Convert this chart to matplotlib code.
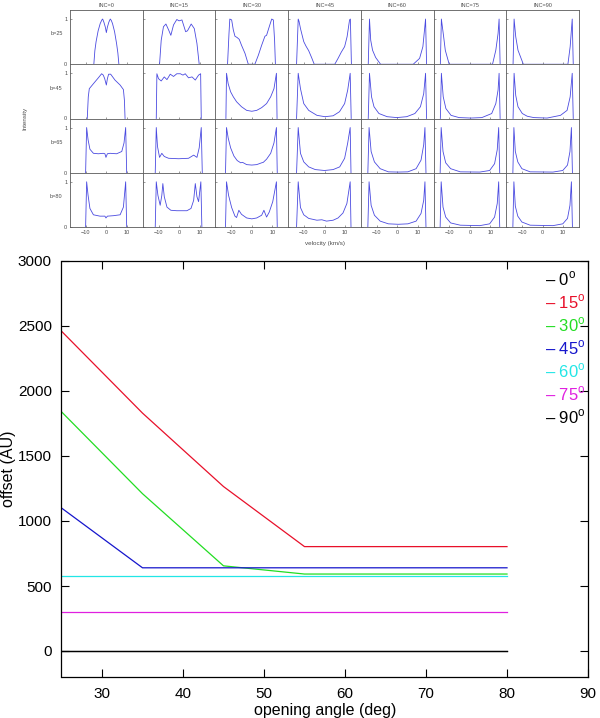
import matplotlib
matplotlib.use("Agg")
import matplotlib.pyplot as plt

plt.rcParams['font.family'] = ['Liberation Sans', 'DejaVu Sans']
plt.rcParams['mathtext.fontset'] = 'custom'
plt.rcParams['mathtext.rm'] = 'Liberation Sans'

# ---- top panel: line profiles, columns = inclination, rows = b ----
inc_labels = ['INC=0', 'INC=15', 'INC=30', 'INC=45', 'INC=60', 'INC=75', 'INC=90']
row_labels = ['b=25', 'b=45', 'b=65', 'b=80']

b25_v = [
    [-6.1, -5.6, -5, -4, -3, -2.2, -1.8, -1.2, -0.5, 0, 0.5, 1.2, 1.9, 2.4, 3, 4, 5, 5.6, 6.1],
    [-9.5, -8.7, -7.6, -6.4, -5.1, -4, -2.7, -1.1, 0, 1.4, 2.3, 3.2, 4.1, 5.9, 7.4, 8.7, 9.8],
    [-11.8, -11.1, -10.7, -9.8, -9, -8.2, -7.1, -6.1, -5, -3.3, -1.7, 1.5, 3.2, 4.8, 6.4, 7.2, 8.5, 9.7, 10.5, 11.1, 11.5],
    [-13.6, -12.8, -12.4, -11.7, -10.1, -9, -7.7, -6.3, -5, 5, 6.6, 8.2, 9.8, 11, 12.2, 12.6, 13.1],
    [-14.1, -13.5, -12.9, -12, -10.5, -8.1, 7.8, 10.9, 12.5, 13.8, 14.3],
    [-14.4, -13.9, -12.8, -12, -10.1, 11, 12.6, 13.7, 14.2, 14.7],
    [-14.4, -13.9, -13.1, -12, -9.4, 12.3, 13.4, 14.4, 14.9],
]
b25_I = [
    [0, 0.3, 0.5, 0.74, 0.9, 0.98, 1.0, 0.93, 0.82, 0.7, 0.82, 0.93, 1.0, 0.97, 0.9, 0.72, 0.45, 0.25, 0],
    [0, 0.53, 0.83, 0.89, 0.76, 0.64, 0.87, 0.99, 0.96, 0.98, 0.85, 0.72, 0.74, 0.89, 0.79, 0.46, 0],
    [0, 0.68, 1.0, 0.98, 0.76, 0.62, 0.59, 0.55, 0.42, 0.24, 0, 0, 0.2, 0.42, 0.62, 0.64, 0.83, 1.0, 0.98, 0.53, 0],
    [0, 1.0, 0.95, 0.79, 0.5, 0.4, 0.3, 0.15, 0, 0, 0.13, 0.27, 0.39, 0.61, 0.98, 1.0, 0],
    [0, 1.0, 0.53, 0.31, 0.15, 0, 0, 0.13, 0.39, 1.0, 0],
    [0, 1.0, 0.61, 0.31, 0, 0, 0.31, 0.68, 1.0, 0],
    [0, 1.0, 0.61, 0.31, 0, 0, 0.39, 1.0, 0],
]

b45_v = [
    [-9.3, -8.8, -8.3, -6.3, -3.9, -2.3, -1.5, -0.8, 0, 0.5, 1.1, 2.1, 4.2, 6.7, 8.3, 8.8, 9.1],
    [-11.1, -10.8, -10, -8.7, -7.2, -5.9, -4.3, -2.7, -1.1, 0.6, 1.9, 3, 4.6, 6.3, 7.9, 9.5, 10.5, 10.8],
    [-12.6, -12.3, -11.5, -10.3, -9, -7.4, -5, -2.5, 0, 2.4, 4.8, 7.2, 9.2, 10.8, 12, 12.3],
    [-13.6, -12.8, -11.7, -10.1, -7.7, -3.7, 0.2, 4.2, 7.3, 9.8, 11.3, 12.5, 13],
    [-14.1, -13.5, -12.5, -11.3, -8.9, -4.9, -0.2, 4.6, 8.6, 11.3, 12.9, 13.8, 14.3],
    [-14.4, -13.9, -13, -11.7, -9.2, -5.3, 0.4, 5.8, 10.6, 12.6, 13.7, 14.2, 14.7],
    [-14.4, -13.9, -13.1, -12, -9.9, -7.5, -4.3, 2.2, 8.7, 11.9, 13.4, 14.4, 14.9],
]
b45_I = [
    [0, 0.48, 0.66, 0.77, 0.9, 0.99, 0.96, 0.88, 0.74, 0.88, 0.98, 0.98, 0.85, 0.74, 0.64, 0.4, 0],
    [0, 0.99, 0.88, 0.83, 0.92, 0.86, 0.98, 0.93, 0.99, 0.99, 0.96, 0.99, 0.9, 0.92, 0.85, 0.96, 0.99, 0],
    [0, 1.0, 0.77, 0.59, 0.48, 0.37, 0.26, 0.18, 0.16, 0.18, 0.24, 0.33, 0.48, 0.66, 1.0, 0],
    [0, 1.0, 0.66, 0.33, 0.18, 0.07, 0.04, 0.06, 0.15, 0.33, 0.63, 1.0, 0],
    [0, 1.0, 0.48, 0.26, 0.11, 0.04, 0.02, 0.04, 0.11, 0.26, 0.55, 1.0, 0],
    [0, 1.0, 0.48, 0.22, 0.07, 0.02, 0.01, 0.02, 0.11, 0.33, 0.63, 1.0, 0],
    [0, 1.0, 0.51, 0.26, 0.11, 0.05, 0.02, 0.01, 0.07, 0.18, 0.48, 1.0, 0],
]

b65_v = [
    [-10.1, -9.6, -8.9, -8, -6.3, -3.9, -1.5, -0.7, -0.2, 0.5, 1.8, 5, 7.5, 8.6, 9.4, 9.9],
    [-11.6, -11.1, -10.5, -9.5, -8.4, -7.2, -5.1, -0.2, 4.6, 7.1, 8.7, 9.8, 10.8, 11.3],
    [-12.8, -12.3, -11.5, -10.3, -8.7, -7.1, -5.4, -4.5, -2.5, 0, 2.4, 4.8, 5.6, 7.2, 9.2, 10.8, 12, 12.4],
    [-13.6, -12.8, -11.7, -10.1, -7.7, -4.5, 0, 4.2, 7.4, 9.8, 11.3, 12.5, 12.9],
    [-14.3, -13.7, -12.7, -11.1, -8.3, -4.3, 0.5, 5.2, 9.2, 11.6, 12.9, 13.5, 14],
    [-14.5, -14, -13.1, -11.8, -9.4, -4.7, 4.8, 9.6, 12, 13.3, 14, 14.5],
    [-14.5, -14, -13.3, -12.1, -10.1, -6.1, 5, 9.8, 12.1, 13.3, 14, 14.5],
]
b65_I = [
    [0, 1.0, 0.73, 0.52, 0.43, 0.42, 0.43, 0.42, 0.34, 0.42, 0.43, 0.42, 0.47, 0.66, 1.0, 0],
    [0, 1.0, 0.58, 0.34, 0.43, 0.36, 0.32, 0.31, 0.32, 0.39, 0.34, 0.55, 1.0, 0],
    [0, 1.0, 0.77, 0.55, 0.37, 0.27, 0.22, 0.23, 0.18, 0.17, 0.18, 0.22, 0.23, 0.3, 0.43, 0.66, 1.0, 0],
    [0, 1.0, 0.43, 0.24, 0.13, 0.07, 0.05, 0.07, 0.13, 0.32, 0.66, 1.0, 0],
    [0, 1.0, 0.47, 0.24, 0.09, 0.02, 0.015, 0.02, 0.09, 0.28, 0.62, 1.0, 0],
    [0, 1.0, 0.47, 0.22, 0.09, 0.02, 0.015, 0.05, 0.2, 0.51, 1.0, 0],
    [0, 1.0, 0.47, 0.24, 0.09, 0.02, 0.015, 0.05, 0.17, 0.47, 1.0, 0],
]

b80_v = [
    [-10.1, -9.6, -8.9, -8, -6.3, -3.1, -0.7, -0.2, 0.5, 3.4, 6.7, 8.3, 9.4, 9.9],
    [-11.6, -11.1, -10.3, -9.2, -8.4, -7.9, -7.2, -5.9, -4, -1.1, 3.8, 5.8, 7.1, 7.9, 8.7, 9.5, 10.6, 11.1],
    [-12.8, -12.3, -11.3, -9.8, -8.2, -7.4, -6.3, -5, -2.5, 0, 2.4, 4.8, 5.9, 7.2, 8.5, 10.2, 12, 12.4],
    [-13.6, -12.8, -11.7, -10.1, -7.7, -3.7, -1.3, 1, 4.2, 6.6, 9, 10.9, 12.5, 12.9],
    [-14.3, -13.7, -12.7, -11.1, -8.3, -4.3, 0.5, 5.2, 9.2, 11.6, 12.9, 13.5, 14],
    [-14.5, -14, -13.1, -11.8, -9.4, -4.7, 4.8, 9.6, 12, 13.3, 14, 14.5],
    [-14.5, -14, -13.3, -12.1, -10.1, -6.1, 5, 9.8, 12.1, 13.3, 14, 14.5],
]
b80_I = [
    [0, 1.0, 0.7, 0.41, 0.27, 0.24, 0.24, 0.2, 0.24, 0.25, 0.27, 0.44, 1.0, 0],
    [0, 1.0, 0.7, 0.48, 0.7, 0.96, 0.67, 0.44, 0.37, 0.36, 0.36, 0.41, 0.59, 0.96, 0.67, 0.56, 1.0, 0],
    [0, 1.0, 0.7, 0.43, 0.24, 0.21, 0.37, 0.28, 0.2, 0.18, 0.2, 0.26, 0.37, 0.22, 0.33, 0.56, 1.0, 0],
    [0, 1.0, 0.43, 0.27, 0.19, 0.15, 0.16, 0.13, 0.15, 0.2, 0.31, 0.52, 1.0, 0],
    [0, 1.0, 0.48, 0.26, 0.13, 0.07, 0.06, 0.07, 0.13, 0.3, 0.59, 1.0, 0],
    [0, 1.0, 0.44, 0.22, 0.09, 0.04, 0.03, 0.07, 0.22, 0.52, 1.0, 0],
    [0, 1.0, 0.46, 0.24, 0.11, 0.04, 0.03, 0.07, 0.19, 0.48, 1.0, 0],
]

rows_v = [b25_v, b45_v, b65_v, b80_v]
rows_I = [b25_I, b45_I, b65_I, b80_I]

# ---- bottom panel: offset vs opening angle ----
opening = [25, 35, 45, 55, 65, 80]
off_0 = [0, 0, 0, 0, 0, 0]
off_15 = [2460, 1830, 1265, 803, 803, 803]
off_30 = [1840, 1210, 655, 592, 592, 592]
off_45 = [1100, 640, 640, 640, 640, 640]
off_60 = [578, 578, 578, 578, 578, 578]
off_75 = [303, 303, 303, 303, 303, 303]
off_90 = [0, 0, 0, 0, 0, 0]
legend_labels = ['0', '15', '30', '45', '60', '75', '90']
line_colors = ['black', '#e8102a', '#22dd22', '#1515cc', '#22e6e6', '#e020e0', 'black']

fig = plt.figure(figsize=(6.0, 7.18), dpi=100)

gs = fig.add_gridspec(4, 7, left=70/600, right=579/600, top=1 - 10/718,
                      bottom=1 - 227/718, wspace=0, hspace=0)
prof_color = '#4a4ae0'
for r in range(4):
    for c in range(7):
        ax = fig.add_subplot(gs[r, c])
        ax.plot(rows_v[r][c], rows_I[r][c], color=prof_color, lw=0.6)
        ax.set_xlim(-17.7, 17.7)
        ax.set_ylim(0, 1.2)
        for s in ax.spines.values():
            s.set_color('0.35')
            s.set_linewidth(0.6)
        ax.tick_params(direction='in', length=1.5, width=0.4, labelsize=4,
                       pad=2, colors='0.3')
        ax.set_xticks([-10, 0, 10])
        ax.set_yticks([0, 1])
        if c == 0:
            ax.set_yticklabels(['0', '1'])
            ax.text(-0.1, 0.56, row_labels[r], transform=ax.transAxes,
                    fontsize=4, ha='right', va='center', color='0.3')
        else:
            ax.set_yticklabels([])
        if r == 3:
            ax.set_xticklabels(['\u221210', '0', '10'])
        else:
            ax.set_xticklabels([])
        if r == 0:
            ax.set_title(inc_labels[c], fontsize=4, pad=2, color='0.3')

fig.text(25/600, 1 - 118/718, 'Intensity', rotation=90, fontsize=4.5,
         ha='center', va='center', color='0.3')
fig.text(325/600, 1 - 244/718, 'velocity (km/s)', fontsize=4.5,
         ha='center', va='center', color='0.3')

ax2 = fig.add_axes([61.5/600, 1 - 677/718, (588 - 61.5)/600, (677 - 261)/718])
series = [off_0, off_15, off_30, off_45, off_60, off_75, off_90]
for vals, col in zip(series, line_colors):
    ax2.plot(opening, vals, color=col, lw=0.9)
ax2.set_xlim(25, 90)
ax2.set_ylim(-200, 3000)
ax2.set_xticks([30, 40, 50, 60, 70, 80, 90])
ax2.set_yticks([0, 500, 1000, 1500, 2000, 2500, 3000])
ax2.tick_params(direction='in', length=6, width=0.8, labelsize=11,
                top=True, right=True, pad=7)
for s in ax2.spines.values():
    s.set_linewidth(0.9)
ax2.set_xlabel('opening angle (deg)', fontsize=11.5, labelpad=2)
ax2.set_ylabel('offset (AU)', fontsize=11.5, labelpad=1)

for i, (lab, col) in enumerate(zip(legend_labels, line_colors)):
    ax2.text(0.918, 0.957 - i * 0.0555, '\u2013 ' + lab + r'$^{\rm o}$',
             transform=ax2.transAxes, color=col, fontsize=12,
             ha='left', va='center')

fig.savefig('out.png', dpi=100)
